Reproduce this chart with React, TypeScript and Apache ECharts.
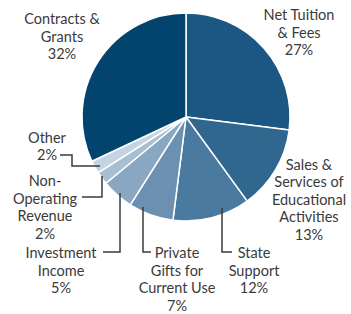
import React, { useEffect, useRef } from "react";
import * as echarts from "echarts";

const categories = [
  "Net Tuition\n& Fees",
  "Sales &\nServices of\nEducational\nActivities",
  "State\nSupport",
  "Private\nGifts for\nCurrent Use",
  "Investment\nIncome",
  "Non-\nOperating\nRevenue",
  "Other",
  "Contracts &\nGrants",
];
const values = [27, 13, 12, 7, 5, 2, 2, 32];
const colors = [
  "#1c5783",
  "#30678f",
  "#4a7aa0",
  "#6b90b0",
  "#89a7c1",
  "#a8bfd2",
  "#c3d4e2",
  "#03446f",
];
// label centers (layout)
const labelPos: [number, number][] = [
  [299, 32],
  [309, 199],
  [254, 270],
  [177, 279],
  [61, 270],
  [45, 207],
  [47, 146],
  [62, 36],
];
const leaderLines: [number, number][][] = [
  [[222, 208], [222, 252], [232, 252]],
  [[143, 207], [143, 252], [151, 252]],
  [[120, 193], [120, 252], [103, 252]],
  [[102, 176], [102, 197], [82, 197]],
  [[100, 166], [72, 166], [72, 155], [60, 155]],
];

export default function App() {
  const ref = useRef<HTMLDivElement>(null);
  useEffect(() => {
    document.body.style.margin = "0";
    const chart = echarts.init(ref.current!, null, { renderer: "svg" });
    chart.setOption({
      animation: false,
      textStyle: { fontFamily: "Lato" },
      color: colors,
      graphic: leaderLines.map((pts) => ({
        type: "polyline",
        shape: { points: pts },
        style: { stroke: "#3a3a3a", lineWidth: 1.5, fill: null },
        z: 10,
      })),
      series: [
        {
          type: "pie",
          center: [186, 117],
          radius: 104,
          startAngle: 90,
          clockwise: true,
          avoidLabelOverlap: false,
          itemStyle: { borderColor: "#ffffff", borderWidth: 1.5 },
          label: {
            show: true,
            position: "outside",
            formatter: "{b}\n{c}%",
            fontFamily: "Lato",
            fontSize: 14.5,
            lineHeight: 17.5,
            color: "#3a3a3a",
            align: "center",
          },
          labelLine: { show: false },
          labelLayout: (params: any) => {
            const p = labelPos[params.dataIndex];
            return { x: p[0], y: p[1], align: "center", verticalAlign: "middle" };
          },
          emphasis: { disabled: true },
          data: categories.map((name, i) => ({ name, value: values[i] })),
        },
      ],
    });
    return () => chart.dispose();
  }, []);
  return <div ref={ref} style={{ width: 351, height: 314 }} />;
}
